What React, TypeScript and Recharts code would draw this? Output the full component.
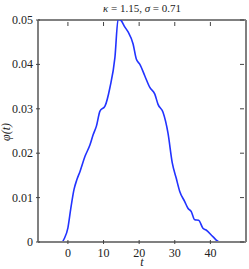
import { LineChart, Line, XAxis, YAxis, ReferenceLine } from "recharts";

const tValues = [
  -8.4, -1.7, -1.0, 0, 0.8, 1.7, 2.5, 3.4, 4.8, 6.2, 7.1, 8.0, 9.0, 10.4, 11.8, 13.2, 14.1, 14.8,
  16.0, 16.9, 18.3, 19.2, 20.2, 21.6, 23.0, 24.4, 25.3, 26.7, 28.1, 29.3, 30.4, 31.4, 32.8, 33.7,
  34.6, 35.6, 36.7, 37.9, 38.8, 40.7, 42.6, 50,
];
const phiValues = [
  0, 0, 0.0008, 0.0032, 0.0075, 0.0118, 0.014, 0.0159, 0.0193, 0.0219, 0.0242, 0.0261, 0.0295,
  0.0306, 0.0348, 0.0416, 0.0502, 0.05, 0.0484, 0.0473, 0.0446, 0.0412, 0.04, 0.0374, 0.0348,
  0.0333, 0.031, 0.0292, 0.0245, 0.0178, 0.0144, 0.0114, 0.0091, 0.0076, 0.0069, 0.005, 0.0049,
  0.0031, 0.0027, 0.0012, 0, 0,
];
const xTicks = [0, 10, 20, 30, 40];
const yTicks = [0, 0.01, 0.02, 0.03, 0.04, 0.05];
const xDomain = [-8.4, 50];
const yDomain = [0, 0.05];

const data = tValues.map((t, i) => ({ t, phi: phiValues[i] }));

const FONT = "Liberation Serif, Times New Roman, serif";
const FRAME = "#808080";
const PLOT_W = 208;
const PLOT_H = 222;

// ticks point inward on all four sides (matlab style)
const BottomTick = (props: any) => {
  const { x, y, payload } = props;
  return (
    <g>
      <line x1={x} y1={y} x2={x} y2={y - 4} stroke="#444" strokeWidth={1} />
      <line x1={x} y1={y - PLOT_H} x2={x} y2={y - PLOT_H + 4} stroke="#444" strokeWidth={1} />
      <text x={x} y={y + 13} textAnchor="middle" fontFamily={FONT} fontSize={12} fill="#222">
        {payload.value}
      </text>
    </g>
  );
};

const LeftTick = (props: any) => {
  const { x, y, payload } = props;
  const v = payload.value === 0 ? "0" : payload.value.toFixed(2);
  return (
    <g>
      <line x1={x} y1={y} x2={x + 4} y2={y} stroke="#444" strokeWidth={1} />
      <line x1={x + PLOT_W} y1={y} x2={x + PLOT_W - 4} y2={y} stroke="#444" strokeWidth={1} />
      <text x={x - 3} y={y + 4} textAnchor="end" fontFamily={FONT} fontSize={12} fill="#222">
        {v}
      </text>
    </g>
  );
};

export default function App() {
  return (
    <div style={{ position: "absolute", left: 0, top: 0, width: 249, height: 269, background: "#fff" }}>
      <LineChart width={249} height={269} data={data} margin={{ top: 20, right: 3, left: 0, bottom: 0 }}>
        <text x={142} y={12} textAnchor="middle" fontFamily={FONT} fontSize={11} fill="#222">
          <tspan fontStyle="italic">κ</tspan> = 1.15, <tspan fontStyle="italic">σ</tspan> = 0.71
        </text>
        <text
          x={10}
          y={132}
          textAnchor="middle"
          fontFamily={FONT}
          fontSize={12}
          fontStyle="italic"
          fill="#222"
          transform="rotate(-90 10 132)"
        >
          φ(t)
        </text>
        <text x={142} y={266} textAnchor="middle" fontFamily={FONT} fontSize={12} fontStyle="italic" fill="#222">
          t
        </text>
        <XAxis
          dataKey="t"
          type="number"
          domain={xDomain}
          ticks={xTicks}
          allowDataOverflow
          height={27}
          tickSize={0}
          tickLine={false}
          axisLine={{ stroke: FRAME, strokeWidth: 2 }}
          tick={<BottomTick />}
          interval={0}
        />
        <YAxis
          type="number"
          domain={yDomain}
          ticks={yTicks}
          allowDataOverflow
          width={38}
          tickSize={0}
          tickLine={false}
          axisLine={{ stroke: FRAME, strokeWidth: 2 }}
          tick={<LeftTick />}
          interval={0}
        />
        <ReferenceLine y={yDomain[1]} stroke={FRAME} strokeWidth={2} ifOverflow="visible" />
        <ReferenceLine x={xDomain[1]} stroke={FRAME} strokeWidth={2} ifOverflow="visible" />
        <Line
          dataKey="phi"
          type="monotone"
          stroke="#2233ff"
          strokeWidth={1.6}
          dot={false}
          isAnimationActive={false}
        />
      </LineChart>
    </div>
  );
}
